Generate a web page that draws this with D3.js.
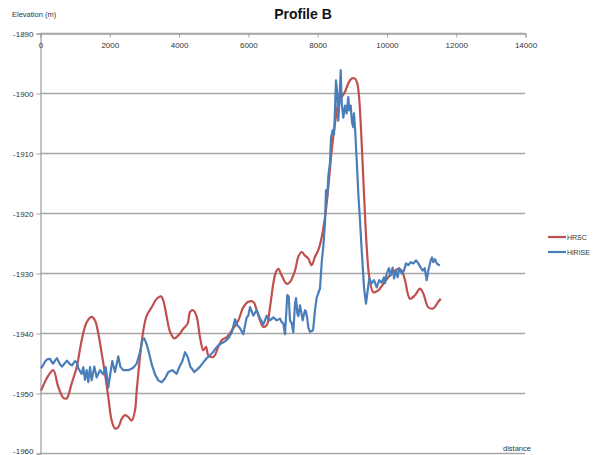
<!DOCTYPE html>
<html>
<head>
<meta charset="utf-8">
<script src="https://cdn.jsdelivr.net/npm/d3@7"></script>
<style>
  body { margin: 0; background: #fff; }
  svg text { font-family: "Liberation Sans", Arial, sans-serif; }
</style>
</head>
<body>
<div id="chart"></div>
<script>
'use strict';

// x ticks / y ticks
var xTicks = [0, 2000, 4000, 6000, 8000, 10000, 12000, 14000]
var yTicks = [-1890, -1900, -1910, -1920, -1930, -1940, -1950, -1960]

// HRSC profile (distance, elevation)
var hrscDist = [30, 240, 384, 528, 673, 771, 817, 915, 1059, 1204, 1348, 1492, 1588, 1683, 1781, 1876, 1972, 2070, 2165, 2260,
  2358, 2454, 2549, 2647, 2742, 2791, 2887, 2982, 3080, 3224, 3369, 3493, 3559, 3657, 3753, 3877, 3992, 4137, 4264, 4330,
  4425, 4523, 4619, 4714, 4792, 4858, 5003, 5147, 5245, 5389, 5534, 5724, 5869, 6013, 6157, 6255, 6351, 6446, 6544, 6639,
  6734, 6812, 6879, 6977, 7121, 7217, 7361, 7456, 7554, 7650, 7745, 7843, 7938, 8033, 8103, 8227, 8322, 8420, 8516, 8611,
  8709, 8804, 8899, 8998, 9093, 9159, 9217, 9286, 9353, 9431, 9506, 9621, 9765, 9910, 10054, 10198, 10343, 10441, 10536, 10680,
  10825, 10969, 11064, 11209, 11353, 11497, 11567]
var hrscElev = [-1949.6, -1947.1, -1946.2, -1949.0, -1950.8, -1950.9, -1950.4, -1948.4, -1945.7, -1941.2, -1938.2, -1937.3, -1937.9, -1940.1, -1943.4, -1946.8, -1950.7, -1954.6, -1955.9, -1955.7,
  -1954.3, -1953.7, -1954.0, -1954.6, -1952.9, -1949.6, -1944.0, -1939.6, -1937.1, -1935.7, -1934.3, -1933.9, -1934.6, -1937.3, -1939.8, -1940.9, -1940.4, -1939.3, -1938.4, -1936.5,
  -1936.2, -1937.3, -1940.7, -1942.9, -1942.3, -1943.7, -1944.0, -1942.3, -1941.2, -1940.7, -1939.6, -1937.9, -1935.7, -1934.8, -1934.8, -1936.2, -1937.9, -1939.0, -1938.7, -1935.7,
  -1931.8, -1929.8, -1929.3, -1930.4, -1931.8, -1931.5, -1929.6, -1927.3, -1926.5, -1927.1, -1927.6, -1928.7, -1927.3, -1926.2, -1924.8, -1920.7, -1915.7, -1909.6, -1905.1, -1901.8,
  -1900.7, -1899.8, -1898.4, -1897.6, -1897.6, -1898.4, -1901.2, -1908.4, -1916.8, -1925.7, -1930.7, -1933.2, -1932.9, -1931.8, -1930.7, -1929.8, -1929.3, -1929.6, -1931.2, -1934.3,
  -1933.7, -1932.6, -1933.4, -1935.7, -1935.9, -1934.8, -1934.3]

// HiRISE profile (distance, elevation)
var hiriseDist = [29, 87, 144, 202, 289, 346, 384, 433, 491, 577, 635, 722, 779, 866, 924, 1010, 1068, 1106, 1204, 1250,
  1299, 1348, 1394, 1443, 1492, 1567, 1637, 1732, 1827, 1897, 1972, 2029, 2087, 2165, 2260, 2318, 2405, 2549, 2693, 2791,
  2887, 2953, 3011, 3080, 3146, 3224, 3320, 3415, 3513, 3608, 3703, 3819, 3946, 4012, 4108, 4186, 4264, 4339, 4454, 4532,
  4619, 4714, 4812, 4907, 4994, 5052, 5147, 5245, 5340, 5436, 5534, 5629, 5695, 5773, 5868, 5967, 6013, 6062, 6111, 6157,
  6255, 6351, 6446, 6544, 6581, 6639, 6734, 6833, 6928, 6977, 7023, 7072, 7121, 7139, 7179, 7217, 7266, 7312, 7361, 7390,
  7427, 7456, 7505, 7583, 7600, 7649, 7678, 7716, 7745, 7794, 7872, 7889, 7938, 7987, 8033, 8062, 8082, 8132, 8178, 8227,
  8256, 8293, 8322, 8371, 8400, 8449, 8487, 8515, 8544, 8582, 8611, 8640, 8680, 8709, 8755, 8804, 8853, 8899, 8928, 8969,
  9006, 9044, 9064, 9102, 9142, 9188, 9237, 9286, 9353, 9410, 9459, 9506, 9575, 9641, 9719, 9794, 9864, 9930, 9959, 10008,
  10074, 10123, 10181, 10219, 10276, 10325, 10372, 10441, 10507, 10565, 10631, 10701, 10776, 10854, 10920, 10989, 11047, 11105, 11162, 11209,
  11278, 11315, 11353, 11402, 11451, 11497, 11546]
var hiriseElev = [-1945.9, -1945.4, -1944.8, -1944.4, -1944.3, -1944.9, -1945.1, -1944.6, -1944.2, -1945.2, -1945.6, -1945.0, -1944.6, -1945.2, -1945.4, -1944.7, -1944.9, -1945.9, -1946.8, -1945.7,
  -1947.8, -1946.2, -1948.2, -1945.7, -1947.9, -1945.6, -1947.4, -1946.2, -1946.9, -1945.7, -1949.1, -1946.8, -1944.7, -1946.5, -1943.9, -1945.6, -1946.2, -1946.2, -1945.8, -1945.1,
  -1943.2, -1941.2, -1940.9, -1941.9, -1943.3, -1945.2, -1946.9, -1947.9, -1948.2, -1947.6, -1946.5, -1946.2, -1946.8, -1945.8, -1944.7, -1943.2, -1944.0, -1945.6, -1946.5, -1946.1,
  -1945.6, -1944.9, -1944.2, -1943.7, -1943.2, -1942.7, -1942.1, -1941.7, -1941.4, -1940.9, -1939.9, -1937.7, -1938.7, -1939.2, -1940.2, -1937.4, -1937.1, -1935.7, -1936.4, -1937.1,
  -1936.2, -1937.6, -1938.6, -1937.1, -1937.6, -1937.9, -1937.4, -1937.9, -1937.6, -1938.2, -1938.4, -1940.2, -1935.4, -1933.7, -1933.9, -1937.9, -1938.4, -1939.9, -1935.1, -1934.2,
  -1936.7, -1937.2, -1935.4, -1937.9, -1937.4, -1936.2, -1936.4, -1937.6, -1939.1, -1939.8, -1939.6, -1939.2, -1936.2, -1934.1, -1933.4, -1932.9, -1932.6, -1928.2, -1925.6, -1921.6,
  -1916.2, -1917.2, -1913.9, -1911.6, -1907.4, -1906.2, -1906.9, -1902.9, -1897.9, -1900.1, -1904.6, -1901.7, -1896.2, -1901.7, -1904.1, -1902.1, -1903.4, -1900.7, -1902.9, -1902.1,
  -1904.9, -1905.7, -1903.4, -1906.7, -1911.2, -1916.7, -1921.2, -1926.2, -1932.4, -1935.1, -1932.9, -1930.9, -1931.7, -1931.2, -1932.4, -1931.2, -1931.6, -1930.7, -1931.7, -1930.1,
  -1929.2, -1930.4, -1929.1, -1930.9, -1929.6, -1930.7, -1929.2, -1930.1, -1929.6, -1928.4, -1928.7, -1928.2, -1928.4, -1927.9, -1928.4, -1929.1, -1929.6, -1929.2, -1931.2, -1929.6,
  -1927.9, -1927.4, -1928.2, -1927.7, -1928.4, -1928.6, -1928.7]

var seriesNames = ["HRSC", "HiRISE"]
var seriesColors = ["#c0504d", "#4a7ebb"]

var W = 596, H = 455
var pLeft = 40, pRight = 525, pTop = 33, pBottom = 453

var svg = d3.select("#chart").append("svg").attr("width", W).attr("height", H)

var x = d3.scaleLinear().domain([0, 14000]).range([pLeft, pRight])
var y = d3.scaleLinear().domain([-1890, -1960]).range([pTop, pBottom])

// gridlines
svg.append("g")
  .selectAll("line")
  .data(yTicks)
  .enter().append("line")
  .attr("x1", pLeft).attr("x2", pRight)
  .attr("y1", function(d){ return y(d) + 0.5 }).attr("y2", function(d){ return y(d) + 0.5 })
  .attr("stroke", "#a6a6a6").attr("stroke-width", 1.3)

// y axis (plain hyphen minus like the original)
var yAxis = svg.append("g")
  .attr("transform", "translate(" + (pLeft + 0.5) + ",0.5)")
  .call(d3.axisLeft(y).tickValues(yTicks).tickSize(4).tickPadding(3).tickFormat(function(d){ return String(d) }))
yAxis.select(".domain").attr("stroke", "#a6a6a6").attr("stroke-width", 1.3)
yAxis.selectAll(".tick line").attr("stroke", "#a6a6a6")
yAxis.selectAll("text").style("font-size", "8px").attr("fill", "#333")
  .attr("dy", function(d){ return d == -1960 ? "0" : "0.32em" })

// x axis along the top, labels below it
var xAxis = svg.append("g")
  .attr("transform", "translate(0.5," + (pTop + 0.5) + ")")
  .call(d3.axisBottom(x).tickValues(xTicks).tickSize(4).tickPadding(5).tickFormat(function(d){ return String(d) }))
xAxis.select(".domain").attr("stroke", "#a6a6a6").attr("stroke-width", 1.3)
xAxis.selectAll(".tick line").attr("stroke", "#a6a6a6")
xAxis.selectAll("text").style("font-size", "8px").attr("fill", "#333")

var line = d3.line()
  .x(function(d){ return x(d[0]) })
  .y(function(d){ return y(d[1]) })

var hrsc = hrscDist.map(function(d, i){ return [d, hrscElev[i]] })
var hirise = hiriseDist.map(function(d, i){ return [d, hiriseElev[i]] })

svg.append("path").datum(hrsc)
  .attr("d", line.curve(d3.curveCatmullRom))
  .attr("fill", "none").attr("stroke", seriesColors[0]).attr("stroke-width", 2.2)
  .attr("stroke-linejoin", "round")

svg.append("path").datum(hirise)
  .attr("d", line.curve(d3.curveLinear))
  .attr("fill", "none").attr("stroke", seriesColors[1]).attr("stroke-width", 2.2)
  .attr("stroke-linejoin", "round")

// titles
svg.append("text").text("Profile B")
  .attr("x", 303).attr("y", 19).attr("text-anchor", "middle")
  .style("font-size", "14px").style("font-weight", "bold").attr("fill", "#111")
svg.append("text").text("Elevation  (m)")
  .attr("x", 12).attr("y", 17)
  .style("font-size", "7.5px").attr("fill", "#333")
svg.append("text").text("distance")
  .attr("x", 503).attr("y", 451)
  .style("font-size", "7.5px").attr("fill", "#333")

// legend
var legend = svg.append("g")
  .selectAll("g")
  .data(seriesNames)
  .enter().append("g")
  .attr("transform", function(d, i){ return "translate(548," + (237 + i * 15) + ")" })
legend.append("line")
  .attr("x1", 0).attr("x2", 18)
  .attr("stroke", function(d, i){ return seriesColors[i] }).attr("stroke-width", 2.2)
legend.append("text").text(function(d){ return d })
  .attr("x", 19).attr("y", 3)
  .style("font-size", "7px").attr("fill", "#333")
</script>
</body>
</html>
